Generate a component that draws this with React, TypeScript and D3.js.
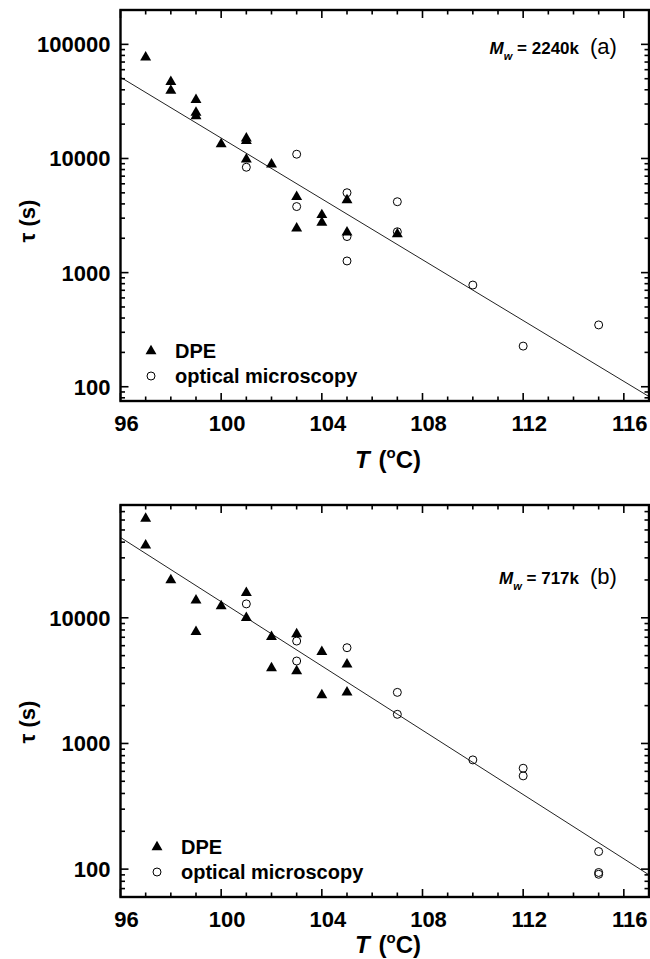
import React from 'react';
import * as d3 from 'd3';

// ---------- data ----------
const xMajorTicks = [96, 100, 104, 108, 112, 116];
const xMinorTicks = d3.range(96, 118, 1);

const topYLabels = [100, 1000, 10000, 100000];
const botYLabels = [100, 1000, 10000];

// Panel (a) Mw = 2240k
const dpeTopT = [97, 98, 98, 99, 99, 99, 100, 101, 101, 101, 102, 103, 103, 104, 104, 105, 105, 107];
const dpeTopTau = [77000, 47000, 39300, 32600, 25200, 23500, 13400, 15000, 14300, 9840, 8890, 4620, 2440, 3200, 2750, 4330, 2250, 2180];
const omTopT = [101, 103, 103, 105, 105, 105, 107, 107, 110, 112, 115];
const omTopTau = [8380, 10900, 3790, 5010, 2070, 1265, 4180, 2280, 778, 227, 348];
const fitTopT = [96, 117];
const fitTopTau = [51500, 82];

// Panel (b) Mw = 717k
const dpeBotT = [97, 97, 98, 99, 99, 100, 101, 101, 102, 102, 103, 103, 104, 104, 105, 105];
const dpeBotTau = [61700, 37800, 20000, 13800, 7740, 12400, 15800, 10000, 7060, 3980, 7410, 3770, 5370, 2430, 4270, 2550];
const omBotT = [101, 103, 103, 105, 107, 107, 110, 112, 112, 115, 115, 115];
const omBotTau = [12900, 6530, 4530, 5780, 2550, 1706, 740, 635, 552, 138, 94, 91];
const fitBotT = [96, 117];
const fitBotTau = [43600, 90];

const FONT = "'Liberation Sans', Arial, Helvetica, sans-serif";

type PanelProps = {
  top: number;
  bottom: number;
  yDomain: [number, number];
  yLabels: number[];
  dpeT: number[];
  dpeTau: number[];
  omT: number[];
  omTau: number[];
  fitT: number[];
  fitTau: number[];
  mw: string;
  tag: string;
  annY: number;
  legY: number;
  legX: number;
  yTitleY: number;
  xTitleY: number;
};

const LEFT = 120.5;
const RIGHT = 649;

function Panel(p: PanelProps) {
  const x = d3.scaleLinear().domain([96, 117]).range([LEFT, RIGHT]);
  const y = d3.scaleLog().domain(p.yDomain).range([p.bottom, p.top]);
  const yTicks = y.ticks().filter((v) => v >= p.yDomain[0] && v <= p.yDomain[1]);
  const isMajor = (v: number) => Math.abs(Math.log10(v) - Math.round(Math.log10(v))) < 1e-6;
  const tri = d3.symbol(d3.symbolTriangle, 52)()!;
  const line = d3
    .line<number>()
    .x((_, i) => x(p.fitT[i]))
    .y((_, i) => y(p.fitTau[i]));
  const majorLen = 8;
  const minorLen = 4.5;
  return (
    <g>
      <defs>
        <clipPath id={'clip' + p.top}>
          <rect x={LEFT} y={p.top} width={RIGHT - LEFT} height={p.bottom - p.top} />
        </clipPath>
      </defs>
      {/* fit line */}
      <path d={line(p.fitT) || ''} fill="none" stroke="#222" strokeWidth={1} clipPath={`url(#clip${p.top})`} />
      {/* optical microscopy */}
      {p.omT.map((t, i) => (
        <circle key={'o' + i} cx={x(t)} cy={y(p.omTau[i])} r={4} fill="none" stroke="#000" strokeWidth={1} />
      ))}
      {/* DPE */}
      {p.dpeT.map((t, i) => (
        <path key={'d' + i} d={tri} transform={`translate(${x(t)},${y(p.dpeTau[i])})`} fill="#000" />
      ))}
      {/* x ticks */}
      {xMinorTicks.map((t) => {
        const len = xMajorTicks.includes(t) ? majorLen : minorLen;
        return (
          <g key={'xt' + t}>
            <line x1={x(t)} x2={x(t)} y1={p.bottom} y2={p.bottom - len} stroke="#000" strokeWidth={1.6} />
            <line x1={x(t)} x2={x(t)} y1={p.top} y2={p.top + len} stroke="#000" strokeWidth={1.6} />
          </g>
        );
      })}
      {xMajorTicks.map((t) => (
        <text key={'xl' + t} x={x(t) + 6} y={p.bottom + 30} textAnchor="middle" fontFamily={FONT} fontSize={22} fontWeight="bold">
          {t}
        </text>
      ))}
      {/* y ticks */}
      {yTicks.map((v) => {
        const len = isMajor(v) ? majorLen : minorLen;
        return (
          <g key={'yt' + v}>
            <line x1={LEFT} x2={LEFT + len} y1={y(v)} y2={y(v)} stroke="#000" strokeWidth={1.6} />
            <line x1={RIGHT} x2={RIGHT - len} y1={y(v)} y2={y(v)} stroke="#000" strokeWidth={1.6} />
          </g>
        );
      })}
      {p.yLabels.map((v) => (
        <text key={'yl' + v} x={LEFT - 10} y={y(v)} dy="0.36em" textAnchor="end" fontFamily={FONT} fontSize={22} fontWeight="bold">
          {v}
        </text>
      ))}
      {/* frame */}
      <rect x={LEFT} y={p.top} width={RIGHT - LEFT} height={p.bottom - p.top} fill="none" stroke="#000" strokeWidth={2.4} />
      {/* axis titles */}
      <text x={388} y={p.xTitleY} textAnchor="middle" fontFamily={FONT} fontSize={24} fontWeight="bold">
        <tspan fontStyle="italic">T</tspan>
        <tspan dx={9}>(</tspan>
        <tspan fontSize={15} dy={-10}>o</tspan>
        <tspan dy={10}>C)</tspan>
      </text>
      <text transform={`translate(35,${p.yTitleY}) rotate(-90)`} textAnchor="middle" fontFamily={FONT} fontSize={22} fontWeight="bold">
        τ (s)
      </text>
      {/* annotation */}
      <text x={579} y={p.annY} textAnchor="end" fontFamily={FONT} fontSize={17} fontWeight="bold">
        <tspan fontStyle="italic">M</tspan>
        <tspan fontStyle="italic" fontSize={11} dy={6}>w</tspan>
        <tspan dy={-6}> = {p.mw}</tspan>
      </text>
      <text x={590} y={p.annY} fontFamily={FONT} fontSize={22}>
        ({p.tag})
      </text>
      {/* legend */}
      <path d={tri} transform={`translate(${p.legX},${p.legY})`} fill="#000" />
      <text x={p.legX + 24} y={p.legY + 7} fontFamily={FONT} fontSize={20} fontWeight="bold">
        DPE
      </text>
      <circle cx={p.legX} cy={p.legY + 25} r={4} fill="none" stroke="#000" strokeWidth={1} />
      <text x={p.legX + 24} y={p.legY + 32} fontFamily={FONT} fontSize={20} fontWeight="bold">
        optical microscopy
      </text>
    </g>
  );
}

export default function App() {
  return (
    <div style={{ position: 'absolute', left: 0, top: 0 }}>
      <svg width={650} height={959} style={{ display: 'block', background: '#fff' }}>
        <Panel
          top={10}
          bottom={401}
          yDomain={[75, 200000]}
          yLabels={topYLabels}
          dpeT={dpeTopT}
          dpeTau={dpeTopTau}
          omT={omTopT}
          omTau={omTopTau}
          fitT={fitTopT}
          fitTau={fitTopTau}
          mw="2240k"
          tag="a"
          annY={54}
          legX={151}
          legY={351}
          yTitleY={221}
          xTitleY={468}
        />
        <Panel
          top={505}
          bottom={897}
          yDomain={[60, 79000]}
          yLabels={botYLabels}
          dpeT={dpeBotT}
          dpeTau={dpeBotTau}
          omT={omBotT}
          omTau={omBotTau}
          fitT={fitBotT}
          fitTau={fitBotTau}
          mw="717k"
          tag="b"
          annY={584}
          legX={157}
          legY={847}
          yTitleY={722}
          xTitleY={953}
        />
      </svg>
    </div>
  );
}
